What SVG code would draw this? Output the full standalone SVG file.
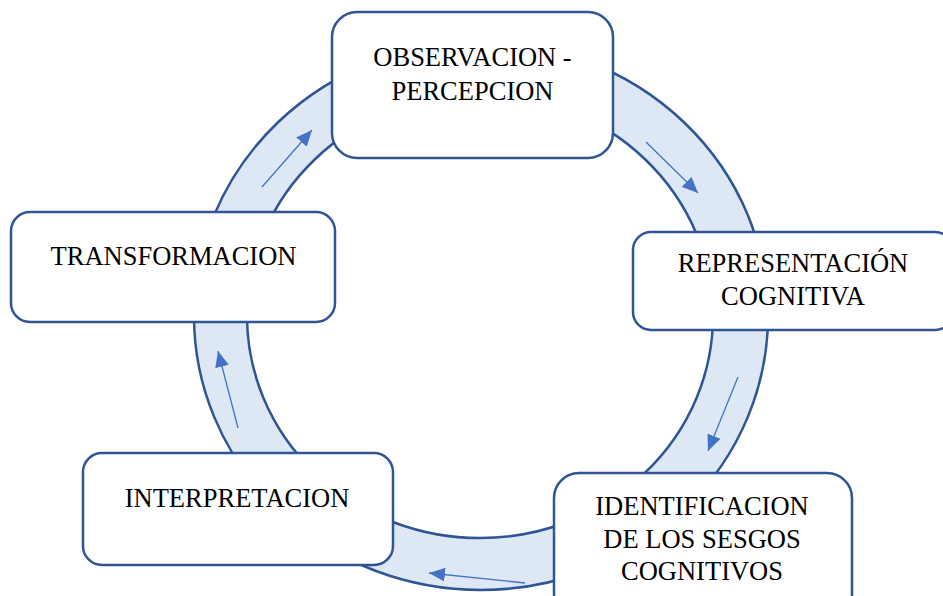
<svg xmlns="http://www.w3.org/2000/svg" width="943" height="596" viewBox="0 0 943 596">
  <style>
    .ring { fill: #DEE8F5; stroke: #2F5597; stroke-width: 2.5; fill-rule: evenodd; }
    .box { fill: #FFFFFF; stroke: #2F5597; stroke-width: 2.5; }
    .lbl { font-family: "Liberation Serif", "Times New Roman", serif; font-size: 26.5px; fill: #000000; text-anchor: middle; }
    .arr { stroke: #4472C4; stroke-width: 1.3; fill: none; marker-end: url(#head); }
  </style>
  <defs>
    <marker id="head" viewBox="0 0 16 14" refX="16" refY="7" markerWidth="16" markerHeight="14" markerUnits="userSpaceOnUse" orient="auto">
      <path d="M0,0 L16,7 L0,14 Z" fill="#4472C4"/>
    </marker>
  </defs>
  <rect width="943" height="596" fill="#FFFFFF"/>
  <g id="connectors">
    <path class="ring" d="M194,316 A287,274 0 1,0 768,316 A287,274 0 1,0 194,316 Z M247,316 A233,222 0 1,0 713,316 A233,222 0 1,0 247,316 Z"/>
    <line class="arr" x1="262" y1="187" x2="312" y2="130"/>
    <line class="arr" x1="646" y1="142" x2="698" y2="193"/>
    <line class="arr" x1="738" y1="377" x2="708" y2="451"/>
    <line class="arr" x1="525" y1="583" x2="429" y2="573"/>
    <line class="arr" x1="238" y1="428" x2="218" y2="351"/>
  </g>
  <g id="node-observacion">
    <rect class="box" x="332" y="12" width="281" height="146" rx="25" ry="25"/>
    <text class="lbl" x="472.5" y="66">OBSERVACION -</text>
    <text class="lbl" x="472.5" y="100">PERCEPCION</text>
  </g>
  <g id="node-representacion">
    <rect class="box" x="633" y="232" width="320" height="98" rx="18" ry="18"/>
    <text class="lbl" x="793" y="272">REPRESENTACIÓN</text>
    <text class="lbl" x="793" y="305">COGNITIVA</text>
  </g>
  <g id="node-identificacion">
    <rect class="box" x="554" y="473" width="298" height="146" rx="25" ry="25"/>
    <text class="lbl" x="702" y="515">IDENTIFICACION</text>
    <text class="lbl" x="702" y="548">DE LOS SESGOS</text>
    <text class="lbl" x="702" y="580">COGNITIVOS</text>
  </g>
  <g id="node-interpretacion">
    <rect class="box" x="83" y="453" width="310" height="112" rx="19" ry="19"/>
    <text class="lbl" x="237" y="507">INTERPRETACION</text>
  </g>
  <g id="node-transformacion">
    <rect class="box" x="11" y="212" width="324" height="110" rx="19" ry="19"/>
    <text class="lbl" x="173.5" y="265">TRANSFORMACION</text>
  </g>
</svg>
